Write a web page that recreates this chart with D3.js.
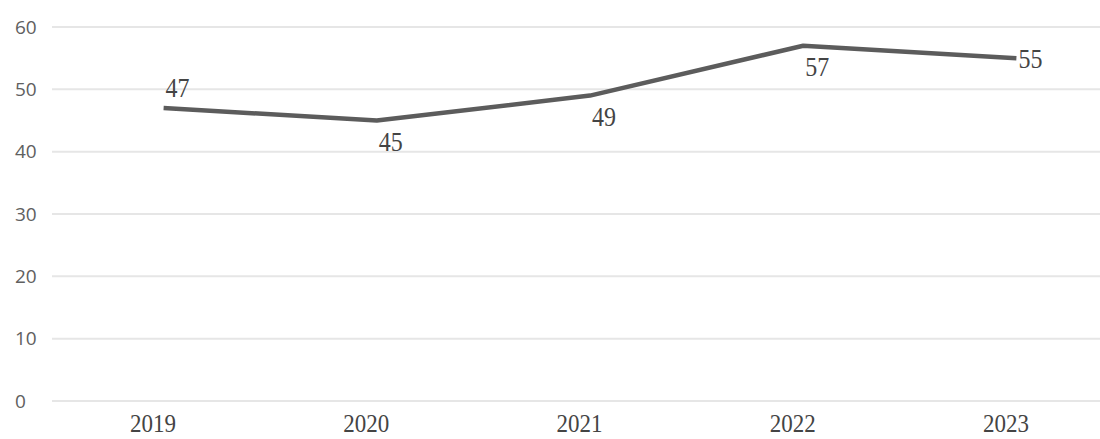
<!DOCTYPE html>
<html>
<head>
<meta charset="utf-8">
<script src="https://cdn.jsdelivr.net/npm/d3@7"></script>
<style>
  html, body { margin: 0; padding: 0; background: #fff; }
  svg { display: block; }
</style>
</head>
<body>
<svg id="chart" width="1100" height="439"></svg>
<script>
// Yearly values
const years = ["2019", "2020", "2021", "2022", "2023"];
const values = [47, 45, 49, 57, 55];
const yTicks = [0, 10, 20, 30, 40, 50, 60];
// where each value label sits relative to its point
const labelPlacement = ["above", "below", "below", "below", "right"];

const svg = d3.select("#chart");
const plot = { left: 57, right: 1123, top: 27, bottom: 401, gridStart: 52 };

const x = d3.scalePoint().domain(years).range([plot.left, plot.right]).padding(0.5);
const y = d3.scaleLinear().domain([0, 60]).range([plot.bottom, plot.top]);

// horizontal gridlines
svg.append("g")
  .selectAll("line")
  .data(yTicks)
  .join("line")
  .attr("x1", plot.gridStart)
  .attr("x2", plot.right)
  .attr("y1", d => y(d))
  .attr("y2", d => y(d))
  .attr("stroke", "#e6e6e6")
  .attr("stroke-width", 2);

// y axis labels, left-aligned
const yAxis = d3.axisLeft(y).tickValues(yTicks).tickSize(0).tickPadding(0);
svg.append("g")
  .attr("transform", "translate(15,0)")
  .call(yAxis)
  .call(g => g.select(".domain").remove())
  .call(g => g.selectAll("text")
    .attr("text-anchor", "start")
    .attr("x", 0)
    .attr("fill", "#606060")
    .style("font-family", "'Open Sans', 'Noto Sans', sans-serif")
    .style("font-size", "19px"));

// x axis labels, baseline-anchored and slightly tall
const xAxis = d3.axisBottom(x).tickSize(0).tickPadding(0);
svg.append("g")
  .attr("transform", "translate(-11,432)")
  .call(xAxis)
  .call(g => g.select(".domain").remove())
  .call(g => g.selectAll("text")
    .attr("y", 0)
    .attr("dy", 0)
    .attr("transform", "scale(1,1.12)")
    .attr("fill", "#444")
    .style("font-family", "'Liberation Serif', 'DejaVu Serif', serif")
    .style("font-size", "23px"));

// the series line
const line = d3.line()
  .x((d, i) => x(years[i]))
  .y(d => y(d));

svg.append("path")
  .datum(values)
  .attr("d", line)
  .attr("fill", "none")
  .attr("stroke", "#5c5c5c")
  .attr("stroke-width", 4.5)
  .attr("stroke-linejoin", "round");

// value labels
const labelDy = { above: -20, below: 21, right: 0 };
svg.append("g")
  .selectAll("text")
  .data(values)
  .join("text")
  .attr("transform", (d, i) =>
    `translate(${x(years[i]) + 14},${y(d) + labelDy[labelPlacement[i]]}) scale(1,1.12)`)
  .attr("dy", "0.35em")
  .attr("text-anchor", "middle")
  .attr("fill", "#444")
  .style("font-family", "'Liberation Serif', 'DejaVu Serif', serif")
  .style("font-size", "24px")
  .text(d => d);
</script>
</body>
</html>
